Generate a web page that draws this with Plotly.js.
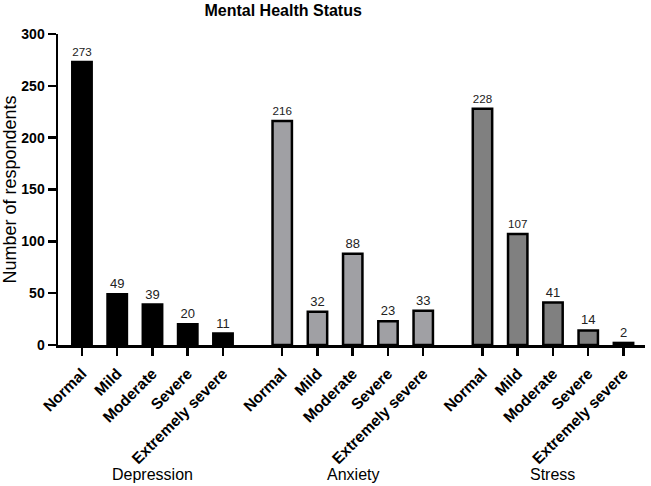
<!DOCTYPE html>
<html>
<head>
<meta charset="utf-8">
<script src="https://cdn.plot.ly/plotly-3.0.1.min.js"></script>
<style>html,body{margin:0;padding:0;background:#fff}#chart{width:651px;height:486px}</style>
</head>
<body>
<div id="chart"></div>
<script>
const categories = ["Normal", "Mild", "Moderate", "Severe", "Extremely severe"];
const groups = ["Depression", "Anxiety", "Stress"];
const depression = [273, 49, 39, 20, 11];
const anxiety = [216, 32, 88, 23, 33];
const stress = [228, 107, 41, 14, 2];

const series = [depression, anxiety, stress];
const colors = ["#000000", "#a0a0a4", "#808080"];
const groupStep = 5.68;
const FONT = "Liberation Sans, Arial, sans-serif";

const traces = [];
const tickvals = [], ticktext = [];
series.forEach((vals, g) => {
  const xs = categories.map((c, i) => i + g * groupStep);
  xs.forEach((x, i) => { tickvals.push(x); ticktext.push(categories[i]); });
  traces.push({
    type: "bar",
    name: groups[g],
    x: xs,
    y: vals,
    width: 0.55,
    marker: {color: colors[g], line: {color: "#000", width: 2.5}},
    text: vals.map(String),
    textposition: "outside",
    textfont: {family: FONT, size: 13, color: "#222"},
    outsidetextfont: {family: FONT, size: 13, color: "#222"},
    cliponaxis: false,
    hoverinfo: "skip"
  });
});

const annotations = groups.map((name, g) => ({
  x: 2 + g * groupStep, xref: "x",
  y: 0, yref: "paper", yshift: -129,
  text: name, showarrow: false,
  font: {family: FONT, size: 16, color: "#000"},
  yanchor: "middle"
}));

const layout = {
  width: 651, height: 486,
  margin: {l: 58, r: 6, t: 34, b: 141},
  paper_bgcolor: "#fff", plot_bgcolor: "#fff",
  showlegend: false,
  title: {text: "Mental Health Status", x: 0.435, xanchor: "center", y: 0.979, yanchor: "middle",
          font: {family: FONT, size: 16, weight: "bold", color: "#000"}},
  xaxis: {
    range: [-0.68, 15.97], showgrid: false, zeroline: false,
    showline: true, linecolor: "#000", linewidth: 2.5,
    tickmode: "array", tickvals: tickvals, ticktext: ticktext,
    ticks: "outside", ticklen: 8, tickwidth: 2.5, tickcolor: "#000",
    tickangle: -45, ticklabelstandoff: 3,
    tickfont: {family: FONT, size: 15.5, weight: "bold", color: "#000"}
  },
  yaxis: {
    range: [0, 300], showgrid: false, zeroline: false,
    showline: true, linecolor: "#000", linewidth: 2.5,
    tickvals: [0, 50, 100, 150, 200, 250, 300],
    ticks: "outside", ticklen: 8, tickwidth: 2.5, tickcolor: "#000",
    tickfont: {family: FONT, size: 14, weight: "bold", color: "#000"},
    title: {text: "Number of respondents", standoff: 5,
            font: {family: FONT, size: 18, color: "#000"}}
  },
  annotations: annotations,
  bargap: 0
};

Plotly.newPlot("chart", traces, layout, {displayModeBar: false, staticPlot: true});
</script>
</body>
</html>
